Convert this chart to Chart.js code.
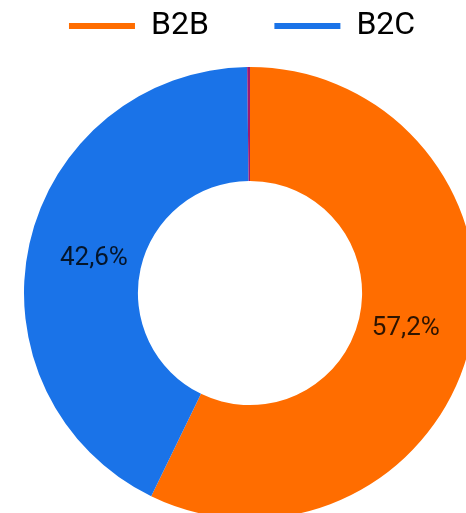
<!DOCTYPE html>
<html lang="en">
<head>
  <meta charset="UTF-8">
  <title>B2B / B2C</title>
  <script src="https://cdn.jsdelivr.net/npm/chart.js"></script>
  <style>
    html, body { margin: 0; padding: 0; background: #fff; overflow: hidden; }
    #wrap { position: relative; width: 500px; height: 534px; }
  </style>
</head>
<body>
  <div id="wrap"><canvas id="chart"></canvas></div>

  <script>
    const labels = ['B2B', 'B2C', 'Other'];
    const shares = [57.2, 42.6, 0.2];
    const colors = ['#ff6d00', '#1a73e8', '#a01a6e'];
    // trailing spaces only widen the legend items so they sit like the original
    const legendPad = ['       ', '  '];

    const sliceLabels = {
      id: 'sliceLabels',
      afterDatasetsDraw(chart) {
        const ctx = chart.ctx;
        const meta = chart.getDatasetMeta(0);
        ctx.save();
        ctx.font = '26px Roboto';
        ctx.fillStyle = 'rgba(0,0,0,0.82)';
        ctx.textAlign = 'center';
        ctx.textBaseline = 'middle';
        meta.data.forEach((arc, i) => {
          if (shares[i] < 2) return;
          const p = arc.getProps(['x', 'y', 'startAngle', 'endAngle', 'innerRadius', 'outerRadius'], true);
          const mid = (p.startAngle + p.endAngle) / 2;
          const r = p.innerRadius + (p.outerRadius - p.innerRadius) * 0.42;
          const txt = shares[i].toFixed(1).replace('.', ',') + '%';
          ctx.fillText(txt, p.x + Math.cos(mid) * r, p.y + Math.sin(mid) * r);
        });
        ctx.restore();
      }
    };

    const ctx = document.getElementById('chart').getContext('2d');
    const chart = new Chart(ctx, {
      type: 'doughnut',
      data: {
        labels: labels,
        datasets: [{
          data: shares,
          backgroundColor: colors,
          borderWidth: 0
        }]
      },
      options: {
        responsive: true,
        maintainAspectRatio: false,
        animation: false,
        radius: 226,
        cutout: '49.6%',
        layout: { padding: 0 },
        plugins: {
          tooltip: { enabled: false },
          legend: {
            position: 'top',
            labels: {
              boxWidth: 66,
              boxHeight: 6,
              padding: 10,
              color: '#1a1a1a',
              font: { family: 'Roboto', size: 32 },
              generateLabels(c) {
                return labels.slice(0, 2).map((l, i) => ({
                  text: l + legendPad[i],
                  fillStyle: colors[i],
                  strokeStyle: colors[i],
                  lineWidth: 0,
                  hidden: false,
                  index: i
                }));
              }
            }
          }
        }
      },
      plugins: [sliceLabels]
    });
  </script>
</body>
</html>
